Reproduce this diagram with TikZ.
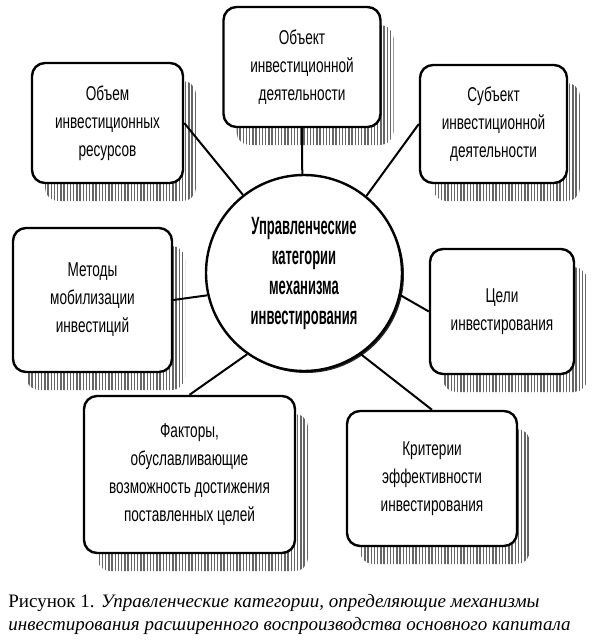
\documentclass[tikz,border=0pt]{standalone}
\usepackage{fontspec}
\setmainfont{Liberation Serif}
\newfontfamily\boxfont[FakeStretch=0.68]{Liberation Sans}
\newfontfamily\hubfont[FakeStretch=0.52]{Liberation Sans}
\usepackage{tikz}
\usetikzlibrary{calc}
\usetikzlibrary{shapes}
\usetikzlibrary{shadows}
\usetikzlibrary{patterns.meta}
\usetikzlibrary{positioning}
\tikzstyle{cat} = [draw, line width = 1.2pt, rounded corners = 6.5pt, fill = white, align = center, inner sep = 0, font = \boxfont\fontsize{10}{14}\selectfont, general shadow = {shadow xshift = 6.5pt, shadow yshift = -9pt, pattern = {Lines[angle = 90, distance = 1.6pt, line width = 0.7pt]}, pattern color = black!60}]
\tikzstyle{hub} = [circle, draw, line width = 1.2pt, fill = white, align = center, inner sep = 0, minimum size = 98pt, font = \hubfont\bfseries\fontsize{12.5}{15}\selectfont, general shadow = {shadow xshift = 1pt, shadow yshift = -1pt, fill = black!85}]
\tikzstyle{link} = [-, line width = 1pt]

\begin{document}
\begin{tikzpicture}[x = 0.5pt, y = -0.5pt]
\useasboundingbox (0, 0) rectangle (594, 642);
\node [hub] (V) at (304, 273) {Управленческие\\категории\\механизма\\инвестирования};
\node [cat, minimum width = 75.5pt, minimum height = 60pt] (Vol) at (107.5, 123) {Объем\\инвестиционных\\ресурсов};
\node [cat, minimum width = 78.5pt, minimum height = 60pt] (Ob) at (302, 67) {Объект\\инвестиционной\\деятельности};
\node [cat, minimum width = 73.5pt, minimum height = 59pt] (Sb) at (493.5, 124) {Субъект\\инвестиционной\\деятельности};
\node [cat, minimum width = 79.5pt, minimum height = 72pt] (Mt) at (92.5, 300) {Методы\\мобилизации\\инвестиций};
\node [cat, minimum width = 72pt, minimum height = 62.5pt] (Ts) at (502, 311.5) {Цели\\инвестирования};
\node [cat, minimum width = 105.5pt, minimum height = 78.5pt] (Fk) at (189.5, 474.5) {Факторы,\\обуславливающие\\возможность достижения\\поставленных целей};
\node [cat, minimum width = 85pt, minimum height = 67.5pt] (Kr) at (432, 478.5) {Критерии\\эффективности\\инвестирования};
\draw [link] (Vol.east) to (V.128);
\draw [link] (Ob.south) to (V.91);
\draw [link] (Sb.west) to (V.51);
\draw [link] (Mt.east) to (V.193);
\draw [link] (Ts.west) to (V.347);
\draw [link] (Fk.north) to (V.235);
\draw [link] (Kr.north) to (V.305);
%\node [draw=none] at (297, 0) {};
\node [anchor = north west, align = left, inner sep = 0, font = \fontsize{9.5}{11.5}\selectfont] (cap) at (8, 594) {Рисунок 1. \textit{Управленческие категории, определяющие механизмы}\\\textit{инвестирования расширенного воспроизводства основного капитала}};
\end{tikzpicture}
\end{document}
